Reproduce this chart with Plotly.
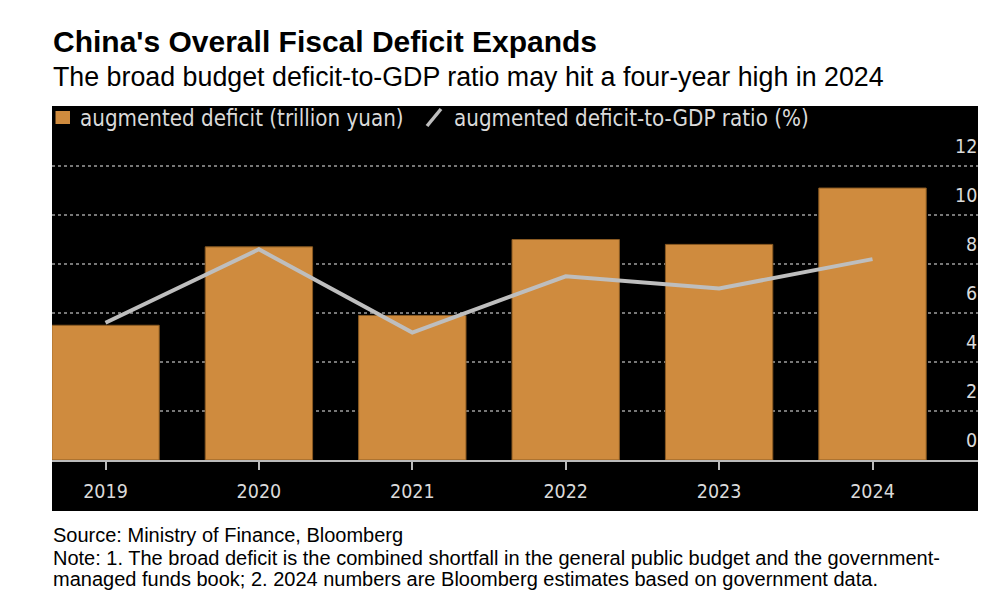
import plotly.graph_objects as go

years = ["2019", "2020", "2021", "2022", "2023", "2024"]
deficit_trn_yuan = [5.5, 8.7, 5.9, 9.0, 8.8, 11.1]
deficit_ratio_pct = [5.6, 8.6, 5.2, 7.5, 7.0, 8.2]
y_ticks = [0, 2, 4, 6, 8, 10, 12]

# page body has an 8px margin: figure is drawn 8px in from the window corner
OFF = 8
W, H = 1008 - OFF, 614 - OFF
L, R = 52, 978          # plot edges in window pixels
T, B = 122, 460
px_per_unit = 24.5
cat_step = 153.4
first_center = 105.5

plot_w = R - L
plot_h = B - T
x_left = -(first_center - L) / cat_step
x_right = x_left + plot_w / cat_step
y_top = plot_h / px_per_unit

def px(x):
    return (x - L) / plot_w

def py(y):
    return (B - y) / plot_h

COND = "DejaVu Sans Condensed, Liberation Sans Narrow, Roboto Condensed, Arial Narrow, sans-serif"
HELV = "Liberation Sans, Arial, Helvetica, sans-serif"

BAR_COLOR = "#CF8B3E"
LINE_COLOR = "#BEBEBE"
TEXT_LIGHT = "#DADADA"

fig = go.Figure()
fig.add_trace(go.Bar(
    x=years, y=deficit_trn_yuan, name="augmented deficit (trillion yuan)",
    marker=dict(color=BAR_COLOR, line=dict(color="#8A5A22", width=1)),
    width=0.7, showlegend=False,
))
fig.add_trace(go.Scatter(
    x=years, y=deficit_ratio_pct, name="augmented deficit-to-GDP ratio (%)",
    mode="lines", line=dict(color=LINE_COLOR, width=4), showlegend=False,
))

shapes = [
    dict(type="rect", xref="paper", yref="paper", x0=px(52), x1=px(978),
         y0=py(511), y1=py(106), fillcolor="black", line=dict(width=0), layer="below"),
    dict(type="rect", xref="paper", yref="paper", x0=px(55.5), x1=px(70),
         y0=py(124), y1=py(111), fillcolor=BAR_COLOR, line=dict(width=0)),
    dict(type="line", xref="paper", yref="paper", x0=px(427), x1=px(441),
         y0=py(126), y1=py(109), line=dict(color=LINE_COLOR, width=3.5)),
]

footer_lines = [
    "Source: Ministry of Finance, Bloomberg",
    "Note: 1. The broad deficit is the combined shortfall in the general public budget and the government-",
    "managed funds book; 2. 2024 numbers are Bloomberg estimates based on government data.",
]
footer_y = [535, 557.5, 579]

annotations = [
    dict(text="<b>China's Overall Fiscal Deficit Expands</b>", xref="paper", yref="paper",
         x=px(51), y=py(42), xanchor="left", yanchor="middle", showarrow=False,
         font=dict(family=HELV, size=30, color="black")),
    dict(text="The broad budget deficit-to-GDP ratio may hit a four-year high in 2024",
         xref="paper", yref="paper", x=px(51), y=py(77), xanchor="left", yanchor="middle",
         showarrow=False, font=dict(family=HELV, size=26.8, color="black")),
    dict(text="augmented deficit (trillion yuan)", xref="paper", yref="paper",
         x=px(78), y=py(117.5), xanchor="left", yanchor="middle", showarrow=False,
         font=dict(family=COND, size=22.2, color=TEXT_LIGHT)),
    dict(text="augmented deficit-to-GDP ratio (%)", xref="paper", yref="paper",
         x=px(452), y=py(117.5), xanchor="left", yanchor="middle", showarrow=False,
         font=dict(family=COND, size=22.2, color=TEXT_LIGHT)),
]
for txt, yy in zip(footer_lines, footer_y):
    annotations.append(dict(text=txt, xref="paper", yref="paper", x=px(51), y=py(yy),
                            xanchor="left", yanchor="middle", align="left", showarrow=False,
                            font=dict(family=HELV, size=20, color="black")))
# y-axis labels: right-aligned at the panel edge, sitting above each gridline
for v in y_ticks:
    annotations.append(dict(text=str(v), xref="paper", yref="y", x=px(979), y=v,
                            xanchor="right", yanchor="middle", yshift=20, showarrow=False,
                            font=dict(family=COND, size=19.5, color=TEXT_LIGHT)))

fig.update_layout(
    width=W, height=H,
    margin=dict(l=L - OFF, r=1008 - R, t=T - OFF, b=614 - B, pad=0),
    paper_bgcolor="white", plot_bgcolor="black",
    bargap=0.3, showlegend=False,
    shapes=shapes, annotations=annotations,
    xaxis=dict(
        type="category", range=[x_left, x_right], showgrid=False, zeroline=False,
        showline=True, linecolor="#BBBBBB", linewidth=1.5,
        ticks="outside", ticklen=8, tickwidth=1.5, tickcolor="#BBBBBB",
        tickfont=dict(family=COND, size=19.5, color=TEXT_LIGHT), ticklabelstandoff=5,
    ),
    yaxis=dict(
        side="right", range=[0, y_top], tickvals=y_ticks, showticklabels=False, ticks="",
        showgrid=True, gridcolor="#777777", griddash="dot", gridwidth=1.5,
        zeroline=False, showline=False,
    ),
)

fig.write_html("out.html")
